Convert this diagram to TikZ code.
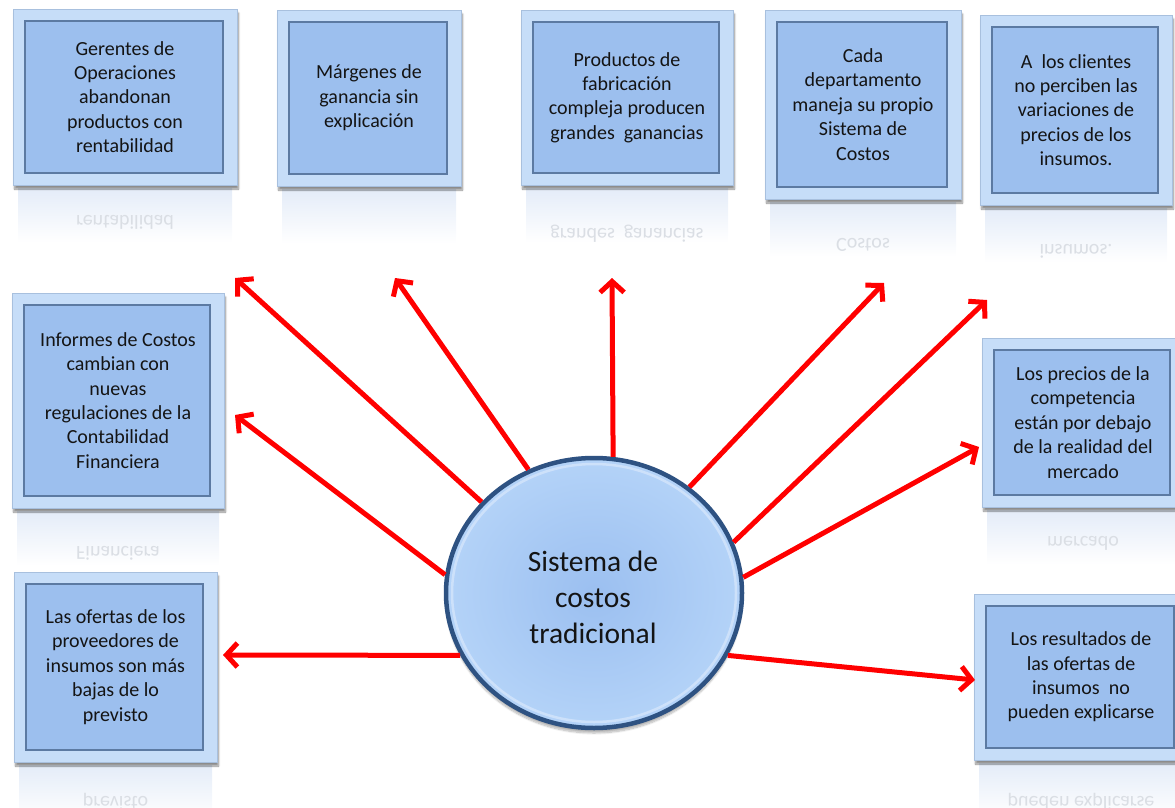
\documentclass[tikz,border=0pt]{standalone}
\usepackage{fontspec}
\setmainfont{Carlito}
\usetikzlibrary{arrows.meta,shapes.geometric,shadows,shadows.blur}

\definecolor{frameFill}{RGB}{198,221,248}
\definecolor{frameLine}{RGB}{168,192,222}
\definecolor{panelFill}{RGB}{156,191,238}
\definecolor{panelLine}{RGB}{92,122,162}
\definecolor{reflTop}{RGB}{228,236,248}
\definecolor{reflText}{RGB}{218,222,228}
\definecolor{hubFill}{RGB}{155,191,240}
\definecolor{hubEdge}{RGB}{180,211,248}
\definecolor{hubLine}{RGB}{46,82,130}
\definecolor{rayRed}{RGB}{255,0,0}

\tikzset{
  frame/.style={draw=frameLine, line width=0.8pt, fill=frameFill, inner sep=0pt,
    blur shadow={shadow xshift=1.5pt, shadow yshift=-4pt, shadow blur steps=6, shadow opacity=45}},
  panel/.style={draw=panelLine, line width=1.3pt, fill=panelFill, inner sep=0pt},
  paneltext/.style={align=center, font=\fontsize{20}{24.4}\selectfont, text=black!92},
  mirrortext/.style={font=\fontsize{20}{24.4}\selectfont, text=reflText, inner sep=0pt},
  hub/.style={ellipse, minimum width=296pt, minimum height=270pt, inner sep=0pt,
    inner color=hubFill, outer color=hubEdge, draw=hubLine, line width=4.5pt,
    blur shadow={shadow xshift=0pt, shadow yshift=-5pt, shadow blur steps=8, shadow opacity=30}},
  hubrim/.style={ellipse, minimum width=284pt, minimum height=258pt, inner sep=0pt,
    draw=white, draw opacity=0.35, line width=2.5pt},
  hubtext/.style={align=center, font=\fontsize{29.5}{36}\selectfont, text=black!92},
  ray/.style={draw=rayRed, line width=5pt, -{Straight Barb[length=11pt, width=24pt]}},
}

% name, centre x, centre y, width, height, text, mirrored last line, y of mirrored line
\newcommand\infopanel[8]{%
  \shade[top color=reflTop, bottom color=white]
    ({#2-#4/2+5},{#3+#5/2+3}) rectangle ({#2+#4/2-5},{#3+#5/2+58});
  \node[mirrortext] (#1-m) at (#2,#8) {\scalebox{1}[-1]{#7}};
  \node[frame, minimum width=#4, minimum height=#5] (#1) at (#2,#3) {};
  \node[panel, minimum width={#4-26}, minimum height={#5-24}] (#1-in) at ({#2-1},#3) {};
  \node[paneltext] (#1-t) at (#1) {#6};
}

\begin{document}
\begin{tikzpicture}[x=1pt, y=-1pt]
  \useasboundingbox (0,0) rectangle (1175,808);
  \clip (0,0) rectangle (1175,808);

  % surrounding panels
  \infopanel{gerentes}{125}{97}{224}{176}
    {Gerentes de\\Operaciones\\abandonan\\productos con\\rentabilidad}{rentabilidad}{222}
  \infopanel{margenes}{369}{98}{184}{176}
    {Márgenes de\\ganancia sin\\explicación}{}{249}
  \infopanel{productos}{627}{97.5}{212}{175}
    {Productos de\\fabricación\\compleja producen\\grandes~ ganancias}{grandes~ ganancias}{234}
  \infopanel{cada}{863}{104.5}{196}{189}
    {Cada\\departamento\\maneja su propio\\Sistema de\\Costos}{Costos}{245}
  \infopanel{clientes}{1076}{110}{192}{190}
    {A~ los clientes\\no perciben las\\variaciones de\\precios de los\\insumos.}{insumos.}{251}
  \infopanel{informes}{118}{400.5}{212}{215}
    {Informes de Costos\\cambian con\\nuevas\\regulaciones de la\\Contabilidad\\Financiera}{Financiera}{553}
  \infopanel{precios}{1083}{422.5}{202}{169}
    {Los precios de la\\competencia\\están por debajo\\de la realidad del\\mercado}{mercado}{543}
  \infopanel{ofertas}{115.5}{667}{203}{190}
    {Las ofertas de los\\proveedores de\\insumos son más\\bajas de lo\\previsto}{previsto}{802}
  \infopanel{resultados}{1081}{677}{214}{166}
    {Los resultados de\\las ofertas de\\insumos~ no\\pueden explicarse}{pueden explicarse}{802}

  % central ellipse
  \node[hub] (sis) at (594,593) {};
  \node[hubrim] (sis-rim) at (sis) {};
  \node[hubtext] (sis-t) at (593,597) {Sistema de\\costos\\tradicional};

  % arrow tips
  \coordinate (tGer) at (235,278);
  \coordinate (tMar) at (395,278);
  \coordinate (tPro) at (612,278);
  \coordinate (tCad) at (884,283);
  \coordinate (tCli) at (987,300);
  \coordinate (tPre) at (979,447);
  \coordinate (tRes) at (975,680);
  \coordinate (tOfe) at (223,655);
  \coordinate (tInf) at (235,415);

  % rays from the centre
  \draw[ray] (sis.141) -- (tGer);
  \draw[ray] (sis.118.6) -- (tMar);
  \draw[ray] (sis.82.1) -- (tPro);
  \draw[ray] (sis.48) -- (tCad);
  \draw[ray] (sis.20.6) -- (tCli);
  \draw[ray] (sis.6.3) -- (tPre);
  \draw[ray] (sis.-25.4) -- (tRes);
  \draw[ray] (sis.205.7) -- (tOfe);
  \draw[ray] (sis.173.4) -- (tInf);
\end{tikzpicture}
\end{document}
